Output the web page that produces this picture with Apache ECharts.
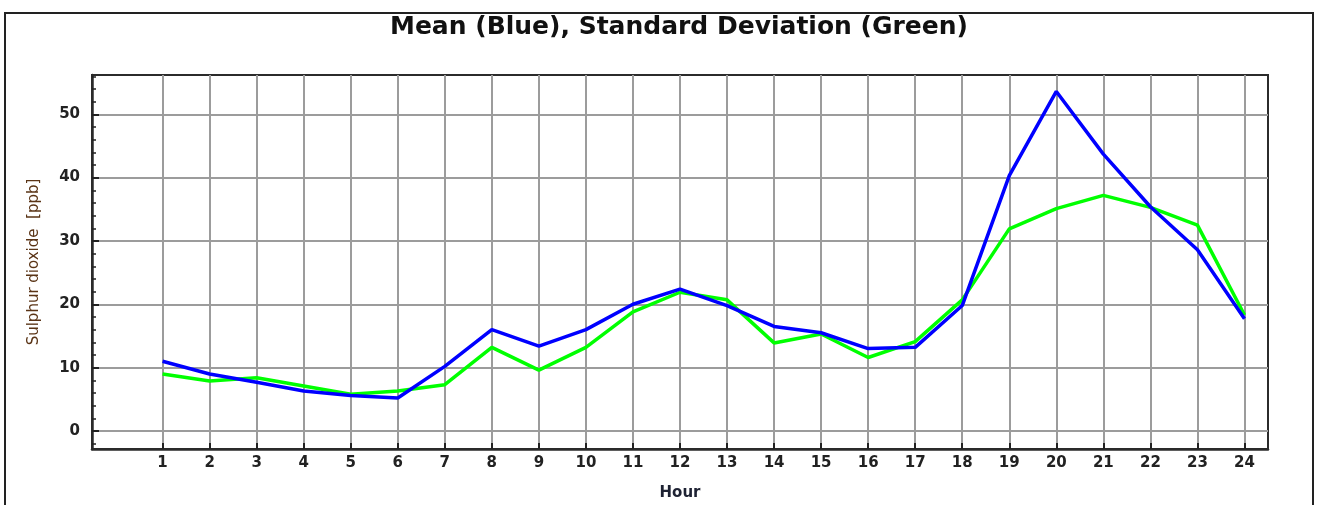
<!DOCTYPE html>
<html>
<head>
<meta charset="utf-8">
<title>Sulphur dioxide by hour</title>
<script src="https://cdn.jsdelivr.net/npm/echarts@6/dist/echarts.min.js"></script>
<style>
  html, body { margin: 0; padding: 0; background: #fff; }
  #chart { width: 1317px; height: 505px; }
</style>
</head>
<body>
<div id="chart"></div>
<script>
// Hour of day
const hours = [1, 2, 3, 4, 5, 6, 7, 8, 9, 10, 11, 12, 13, 14, 15, 16, 17, 18, 19, 20, 21, 22, 23, 24];
// Hourly mean SO2 (ppb)
const meanValues = [11.0, 9.0, 7.7, 6.3, 5.6, 5.2, 10.2, 16.0, 13.4, 16.0, 20.0, 22.4,
                    19.8, 16.5, 15.5, 13.0, 13.2, 19.8, 40.3, 53.6, 43.7, 35.4, 28.6, 17.7];
// Hourly standard deviation of SO2 (ppb)
const stdValues = [9.0, 7.9, 8.4, 7.1, 5.8, 6.3, 7.3, 13.2, 9.6, 13.2, 18.8, 21.9,
                   20.7, 13.9, 15.3, 11.6, 14.1, 20.7, 31.9, 35.1, 37.2, 35.3, 32.5, 18.3];
// Labelled y ticks and the finer unlabelled ticks between them
const yMajorTicks = [0, 10, 20, 30, 40, 50];
const yMinorTicks = [-2, 2, 4, 6, 8, 12, 14, 16, 18, 22, 24, 26, 28, 32, 34, 36, 38, 42, 44, 46, 48, 52, 54, 56];

const FONT = '"DejaVu Sans", "Liberation Sans", sans-serif';
const Y_MIN = -2.85, Y_MAX = 56.2;

const chart = echarts.init(document.getElementById('chart'), null, { renderer: 'canvas' });

const pairs = vals => hours.map((h, i) => [h, vals[i]]);

chart.setOption({
  animation: false,
  backgroundColor: '#fff',
  title: {
    text: 'Mean (Blue), Standard Deviation (Green)',
    left: 679,
    top: 15,
    padding: 0,
    textAlign: 'center',
    textStyle: { fontFamily: FONT, fontWeight: 'bold', fontSize: 25, color: '#111' }
  },
  graphic: [{
    type: 'rect',
    silent: true,
    shape: { x: 5, y: 13, width: 1308, height: 520 },
    style: { fill: null, stroke: '#222', lineWidth: 2 }
  }],
  grid: {
    left: 92, right: 49, top: 75, bottom: 56,
    outerBoundsMode: 'none',
    show: true,
    borderColor: '#2b2b2b',
    borderWidth: 2,
    backgroundColor: '#fff'
  },
  xAxis: {
    type: 'value',
    min: -0.5,
    max: 24.5,
    name: 'Hour',
    nameLocation: 'middle',
    nameGap: 37,
    nameTextStyle: { fontFamily: FONT, fontWeight: 'bold', fontSize: 15, color: '#1e2233' },
    axisLine: { show: true, onZero: false, lineStyle: { color: '#2b2b2b', width: 2.5 } },
    axisTick: { show: true, inside: true, length: 6, customValues: hours, lineStyle: { color: '#222', width: 2 } },
    axisLabel: { customValues: hours, margin: 7, fontFamily: FONT, fontWeight: 'bold', fontSize: 15, color: '#222' },
    splitLine: { show: true, lineStyle: { color: '#9c9c9c', width: 2 } }
  },
  yAxis: [{
    type: 'value',
    min: Y_MIN,
    max: Y_MAX,
    name: 'Sulphur dioxide  [ppb]',
    nameLocation: 'middle',
    nameGap: 50,
    nameTextStyle: { fontFamily: FONT, fontSize: 15, color: '#5a3416' },
    axisLine: { show: true, onZero: false, lineStyle: { color: '#2b2b2b', width: 2.5 } },
    axisTick: { show: true, inside: true, length: 7, customValues: yMajorTicks, lineStyle: { color: '#222', width: 2 } },
    axisLabel: { customValues: yMajorTicks, margin: 12, fontFamily: FONT, fontWeight: 'bold', fontSize: 15, color: '#222' },
    splitLine: { show: true, lineStyle: { color: '#9c9c9c', width: 2 } }
  }, {
    type: 'value',
    position: 'left',
    min: Y_MIN,
    max: Y_MAX,
    axisLine: { show: false, onZero: false },
    axisTick: { show: true, inside: true, length: 4, customValues: yMinorTicks, lineStyle: { color: '#222', width: 1.5 } },
    axisLabel: { show: false },
    splitLine: { show: false }
  }],
  series: [{
    name: 'Standard deviation',
    type: 'line',
    data: pairs(stdValues),
    showSymbol: false,
    z: 3,
    lineStyle: { color: '#00ff00', width: 3.5 },
    itemStyle: { color: '#00ff00' }
  }, {
    name: 'Mean',
    type: 'line',
    data: pairs(meanValues),
    showSymbol: false,
    z: 4,
    lineStyle: { color: '#0000ff', width: 3.5 },
    itemStyle: { color: '#0000ff' }
  }]
});
</script>
</body>
</html>
